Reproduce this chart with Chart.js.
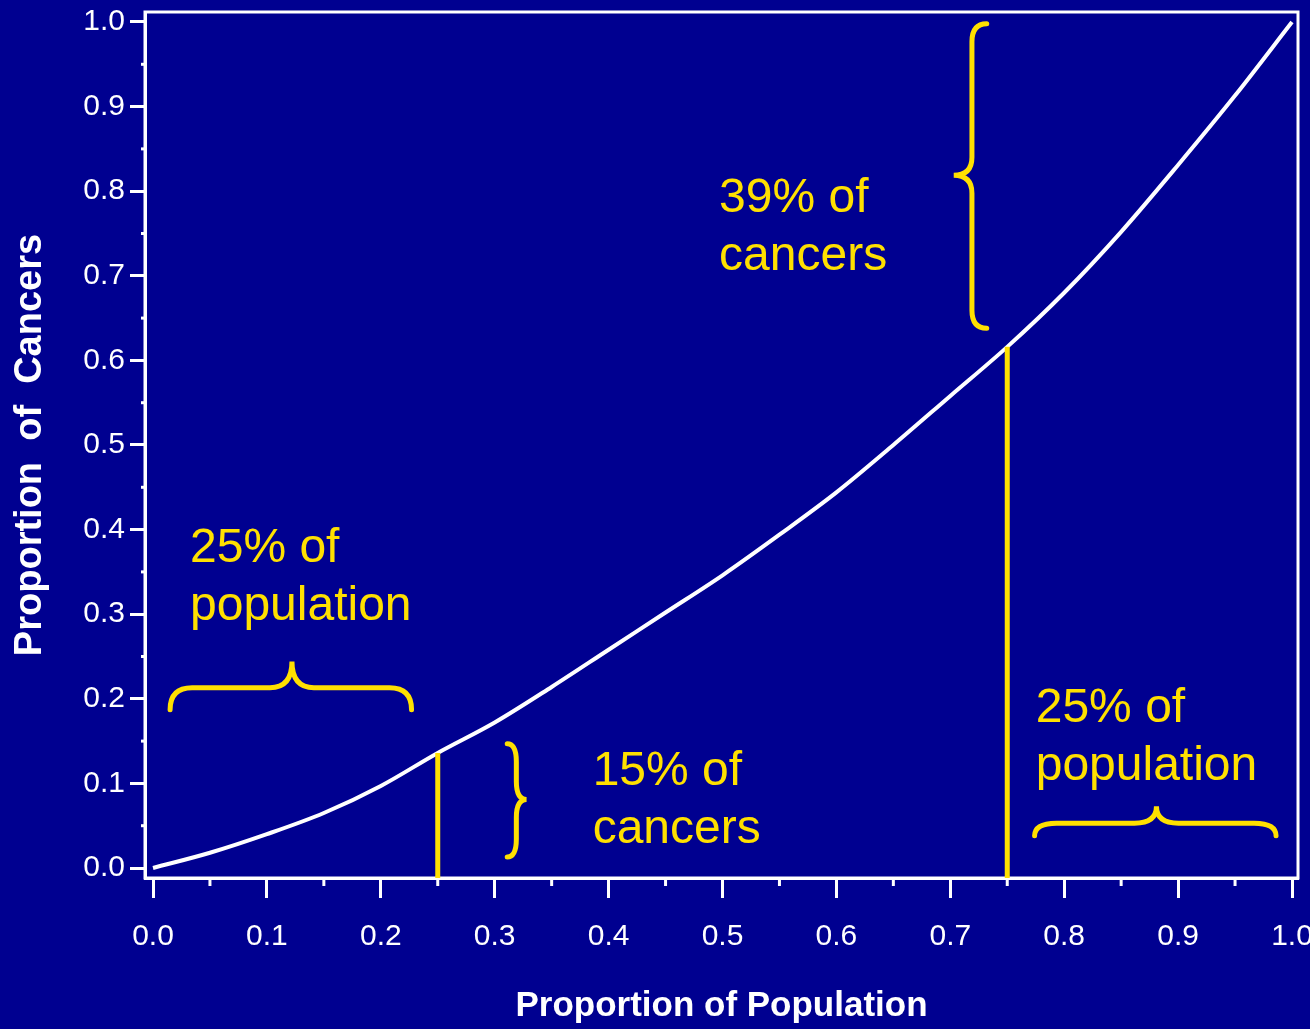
<!DOCTYPE html>
<html>
<head>
<meta charset="utf-8">
<script src="https://cdn.jsdelivr.net/npm/chart.js@4/dist/chart.umd.min.js"></script>
<style>
html, body { margin: 0; padding: 0; background: #000090; }
#wrap { width: 1310px; height: 1029px; }
</style>
</head>
<body>
<div id="wrap"><canvas id="lorenzcanvas"></canvas></div>
<script>
// cumulative share of population (x) vs share of cancers (y)
var popShare = [0, 0.05, 0.1, 0.15, 0.2, 0.25, 0.3, 0.35, 0.4, 0.45, 0.5,
	0.55, 0.6, 0.65, 0.7, 0.75, 0.8, 0.85, 0.9, 0.95, 1.0];
var cancerShare = [0, 0.018, 0.040, 0.065, 0.097, 0.136, 0.172, 0.214, 0.258, 0.302, 0.346,
	0.394, 0.444, 0.500, 0.558, 0.616, 0.680, 0.752, 0.831, 0.913, 1.0];

var tickValues = [0, 0.1, 0.2, 0.3, 0.4, 0.5, 0.6, 0.7, 0.8, 0.9, 1.0];
var minorTicks = [0.05, 0.15, 0.25, 0.35, 0.45, 0.55, 0.65, 0.75, 0.85, 0.95];

// population cut points marked with yellow lines
var cutPoints = [0.25, 0.75];

// annotation texts: [x, y (baseline of first line), lines]
var notes = [
	[0.0325, 0.362, ["25% of", "population"]],
	[0.497, 0.776, ["39% of", "cancers"]],
	[0.386, 0.098, ["15% of", "cancers"]],
	[0.775, 0.173, ["25% of", "population"]]
];

// braces: along-axis from/to, tip position, end/bar/tip offsets (data units), vertical?
var braces = [
	{ from: 0.015, to: 0.227, tip: 0.122, end: 0.187, bar: 0.213, peak: 0.244, vertical: false },
	{ from: 0.774, to: 0.986, tip: 0.881, end: 0.038, bar: 0.053, peak: 0.073, vertical: false },
	{ from: 0.147, to: 0.013, tip: 0.081, end: 0.311, bar: 0.319, peak: 0.328, vertical: true },
	{ from: 0.998, to: 0.638, tip: 0.819, end: 0.732, bar: 0.719, peak: 0.703, vertical: true }
];

var labelFont = '"Liberation Sans", Arial, sans-serif';
var yellow = '#FFE000';

var drawBrace = function(c, a1, a2, aTip, nEnd, nBar, nTip, r, vertical) {
	var s = a2 > a1 ? 1 : -1;
	var P = function(a, n) { return vertical ? [n, a] : [a, n]; };
	var p;
	c.beginPath();
	p = P(a1, nEnd); c.moveTo(p[0], p[1]);
	var q1 = P(a1, nBar), q2 = P(a1 + s * r, nBar);
	c.quadraticCurveTo(q1[0], q1[1], q2[0], q2[1]);
	p = P(aTip - s * r, nBar); c.lineTo(p[0], p[1]);
	q1 = P(aTip, nBar); q2 = P(aTip, nTip);
	c.quadraticCurveTo(q1[0], q1[1], q2[0], q2[1]);
	q2 = P(aTip + s * r, nBar);
	c.quadraticCurveTo(q1[0], q1[1], q2[0], q2[1]);
	p = P(a2 - s * r, nBar); c.lineTo(p[0], p[1]);
	q1 = P(a2, nBar); q2 = P(a2, nEnd);
	c.quadraticCurveTo(q1[0], q1[1], q2[0], q2[1]);
	c.stroke();
};

var decor = {
	id: 'decor',
	beforeDraw: function(chart) {
		var c = chart.ctx;
		c.save();
		c.fillStyle = '#000090';
		c.fillRect(0, 0, chart.width, chart.height);
		c.restore();
	},
	afterDatasetsDraw: function(chart) {
		var c = chart.ctx, xs = chart.scales.x, ys = chart.scales.y, area = chart.chartArea;
		c.save();
		// frame
		c.strokeStyle = '#fff';
		c.lineWidth = 3;
		c.strokeRect(area.left, area.top, area.right - area.left, area.bottom - area.top);
		// minor ticks
		minorTicks.forEach(function(v) {
			var px = xs.getPixelForValue(v);
			c.beginPath(); c.moveTo(px, area.bottom); c.lineTo(px, area.bottom + 8); c.stroke();
			var py = ys.getPixelForValue(v);
			c.beginPath(); c.moveTo(area.left - 4, py); c.lineTo(area.left, py); c.stroke();
		});
		// yellow cut lines
		c.strokeStyle = yellow;
		c.lineWidth = 5;
		cutPoints.forEach(function(v) {
			var i = popShare.indexOf(v);
			var px = xs.getPixelForValue(v);
			c.beginPath();
			c.moveTo(px, area.bottom);
			c.lineTo(px, ys.getPixelForValue(cancerShare[i]));
			c.stroke();
		});
		// braces
		c.lineCap = 'round';
		braces.forEach(function(b) {
			var along = b.vertical ? ys : xs, across = b.vertical ? xs : ys;
			drawBrace(c, along.getPixelForValue(b.from), along.getPixelForValue(b.to),
				along.getPixelForValue(b.tip), across.getPixelForValue(b.end),
				across.getPixelForValue(b.bar), across.getPixelForValue(b.peak),
				b.vertical ? 18 : 22, b.vertical);
		});
		// texts
		c.fillStyle = yellow;
		c.font = '48px "Liberation Sans", Arial, sans-serif';
		c.textAlign = 'left';
		c.textBaseline = 'alphabetic';
		notes.forEach(function(n) {
			var px = xs.getPixelForValue(n[0]), py = ys.getPixelForValue(n[1]);
			n[2].forEach(function(t, k) { c.fillText(t, px, py + k * 58); });
		});
		c.restore();
	}
};

var ctx = document.getElementById('lorenzcanvas');

var chartdata = {
	datasets: [{
		data: popShare.map(function(x, i) { return { x: x, y: cancerShare[i] }; }),
		showLine: true,
		fill: false,
		borderColor: '#ffffff',
		borderWidth: 4,
		pointRadius: 0,
		cubicInterpolationMode: 'monotone'
	}]
};

var LorenzGraph = new Chart(ctx, {
	type: 'scatter',
	data: chartdata,
	plugins: [decor],
	options: {
		responsive: true,
		maintainAspectRatio: false,
		animation: false,
		events: [],
		layout: { padding: { top: 12, right: 12, left: 0, bottom: 0 } },
		plugins: { legend: { display: false }, tooltip: { enabled: false } },
		scales: {
			x: {
				type: 'linear',
				min: -8 / 1139,
				max: 1 + 6 / 1139,
				afterBuildTicks: function(s) { s.ticks = tickValues.map(function(v) { return { value: v }; }); },
				afterFit: function(s) { s.height = 151; s.paddingLeft = 0; s.paddingRight = 0; },
				grid: { drawOnChartArea: false, drawTicks: true, tickLength: 20, tickWidth: 3, tickColor: '#fff' },
				border: { display: true, color: '#fff', width: 3 },
				ticks: {
					color: '#fff', font: { family: labelFont, size: 30 }, padding: 21,
					maxRotation: 0, autoSkip: false,
					callback: function(v) { return v.toFixed(1); }
				},
				title: {
					display: true, text: 'Proportion of Population', color: '#fff',
					font: { family: labelFont, size: 35, weight: 'bold', lineHeight: 1 },
					padding: { top: 0, bottom: 5 }
				}
			},
			y: {
				type: 'linear',
				min: -10 / 846,
				max: 1 + 10 / 846,
				afterBuildTicks: function(s) { s.ticks = tickValues.map(function(v) { return { value: v }; }); },
				afterFit: function(s) { s.width = 145; s.paddingTop = 0; s.paddingBottom = 0; },
				grid: { drawOnChartArea: false, drawTicks: true, tickLength: 15, tickWidth: 3, tickColor: '#fff' },
				border: { display: true, color: '#fff', width: 3 },
				ticks: {
					color: '#fff', font: { family: labelFont, size: 30 }, padding: 5,
					autoSkip: false,
					callback: function(v) { return v.toFixed(1); }
				},
				title: {
					display: true, text: 'Proportion  of  Cancers', color: '#fff',
					font: { family: labelFont, size: 38, weight: 'bold', lineHeight: 1 },
					padding: { top: 12, bottom: 0 }
				}
			}
		}
	}
});
</script>
</body>
</html>
